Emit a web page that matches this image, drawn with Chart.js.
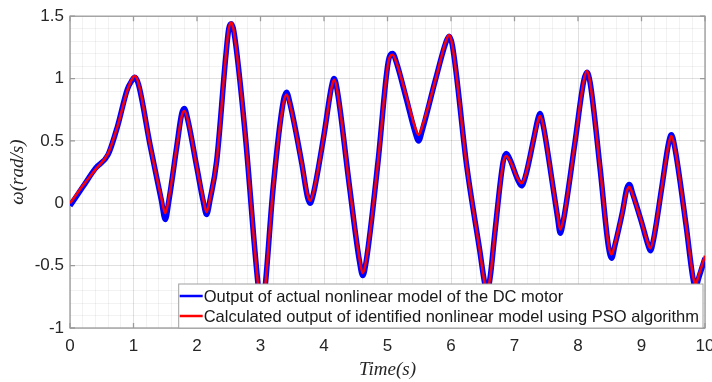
<!DOCTYPE html>
<html>
<head>
<meta charset="utf-8">
<script src="https://cdn.jsdelivr.net/npm/chart.js@4.4.1/dist/chart.umd.min.js"></script>
<style>
  html, body { margin: 0; padding: 0; background: #fff; }
  #wrap { width: 712px; height: 382px; }
</style>
</head>
<body>
<div id="wrap"><canvas id="motorChart" width="712" height="382"></canvas></div>
<script>
// time samples (s)
const time = [
    0.00, 0.20, 0.40, 0.60, 0.75, 0.90, 0.97, 1.02, 1.08,
    1.26, 1.44, 1.50, 1.56, 1.68, 1.76, 1.80, 1.85, 2.00, 2.10,
    2.15, 2.21, 2.31, 2.45, 2.50, 2.54, 2.58,
    2.76, 2.91, 2.98, 3.02, 3.06, 3.20,
    3.36, 3.41, 3.46, 3.65, 3.74, 3.78, 3.83,
    4.00, 4.12, 4.16, 4.21, 4.40, 4.56, 4.61, 4.66,
    4.85, 5.01, 5.08, 5.14, 5.30, 5.44, 5.49, 5.55,
    5.75, 5.92, 5.97, 6.02, 6.25, 6.45, 6.53, 6.57, 6.62, 6.69,
    6.82, 6.87, 6.93, 7.05, 7.11, 7.17, 7.30, 7.37, 7.40, 7.45,
    7.60, 7.68, 7.72, 7.77, 7.95, 8.09, 8.14, 8.19,
    8.35, 8.48, 8.53, 8.58, 8.70, 8.77, 8.81, 8.86, 9.00, 9.10, 9.14, 9.19,
    9.32, 9.43, 9.47, 9.52, 9.70, 9.81, 9.85, 9.90, 10.00
];

// measured speed of the actual motor model (blue)
const actualOutput = [
    -0.02, 0.13, 0.28, 0.39, 0.62, 0.91, 0.98, 1.01, 0.95,
    0.47, 0.02, -0.13, 0.03, 0.45, 0.72, 0.76, 0.68, 0.28, 0.01,
    -0.09, 0.04, 0.34, 1.16, 1.40, 1.44, 1.38,
    0.55, -0.37, -0.74, -0.86, -0.74, 0.13,
    0.82, 0.89, 0.81, 0.32, 0.05, 0.00, 0.07,
    0.55, 0.94, 1.00, 0.90, 0.14, -0.47, -0.58, -0.48,
    0.33, 1.13, 1.20, 1.13, 0.83, 0.56, 0.50, 0.59,
    0.98, 1.29, 1.34, 1.27, 0.29, -0.37, -0.64, -0.71, -0.58, -0.24,
    0.33, 0.40, 0.35, 0.19, 0.14, 0.21, 0.51, 0.68, 0.72, 0.63,
    0.15, -0.12, -0.24, -0.14, 0.48, 0.98, 1.05, 0.97,
    0.27, -0.35, -0.44, -0.34, -0.07, 0.12, 0.15, 0.08, -0.15, -0.33, -0.38, -0.29,
    0.13, 0.49, 0.55, 0.46, -0.17, -0.60, -0.68, -0.60, -0.44
];

// output of the PSO identified model (red)
const psoOutput = [
    0.00, 0.14, 0.27, 0.40, 0.62, 0.90, 0.99, 1.02, 0.96,
    0.47, 0.04, -0.08, 0.05, 0.45, 0.70, 0.74, 0.68, 0.28, 0.03,
    -0.07, 0.05, 0.34, 1.16, 1.40, 1.45, 1.38,
    0.55, -0.37, -0.74, -0.85, -0.74, 0.13,
    0.80, 0.87, 0.80, 0.32, 0.07, 0.02, 0.08,
    0.55, 0.93, 0.99, 0.90, 0.14, -0.45, -0.56, -0.47,
    0.33, 1.12, 1.19, 1.13, 0.85, 0.60, 0.55, 0.62,
    0.98, 1.30, 1.35, 1.27, 0.29, -0.37, -0.64, -0.70, -0.58, -0.24,
    0.32, 0.38, 0.34, 0.20, 0.16, 0.22, 0.51, 0.66, 0.70, 0.63,
    0.15, -0.10, -0.21, -0.13, 0.48, 0.98, 1.06, 0.97,
    0.27, -0.33, -0.41, -0.33, -0.07, 0.10, 0.13, 0.07, -0.15, -0.32, -0.36, -0.28,
    0.13, 0.48, 0.54, 0.46, -0.17, -0.58, -0.65, -0.58, -0.42
];

const xTicks = [0, 1, 2, 3, 4, 5, 6, 7, 8, 9, 10];
const yTicks = [-1, -0.5, 0, 0.5, 1, 1.5];
const seriesLabels = [
    'Output of actual nonlinear model of the DC motor',
    'Calculated output of identified nonlinear model using PSO algorithm'
];

const isMajor = (v, list) => list.some(t => Math.abs(t - v) < 1e-6);
const gridColor = list => ctx => isMajor(ctx.tick.value, list) ? 'rgba(0,0,0,0.12)' : 'rgba(0,0,0,0.05)';
const tickFont = { family: 'Liberation Sans, Arial, sans-serif', size: 17 };
const titleFont = { family: 'Liberation Serif, Times New Roman, serif', style: 'italic', size: 19 };

// MATLAB style box with inward tick marks
const axesBox = {
    id: 'axesBox',
    beforeDatasetsDraw(chart) {
        const { ctx, chartArea: a, scales: { x, y } } = chart;
        ctx.save();
        ctx.strokeStyle = '#9a9a9a';
        ctx.lineWidth = 1.3;
        ctx.strokeRect(a.left, a.top, a.right - a.left, a.bottom - a.top);
        ctx.beginPath();
        xTicks.forEach(v => {
            const px = x.getPixelForValue(v);
            ctx.moveTo(px, a.bottom); ctx.lineTo(px, a.bottom - 5);
            ctx.moveTo(px, a.top); ctx.lineTo(px, a.top + 5);
        });
        yTicks.forEach(v => {
            const py = y.getPixelForValue(v);
            ctx.moveTo(a.left, py); ctx.lineTo(a.left + 5, py);
            ctx.moveTo(a.right, py); ctx.lineTo(a.right - 5, py);
        });
        ctx.stroke();
        ctx.restore();
    }
};

// legend box sitting in the lower right corner of the axes
const boxLegend = {
    id: 'boxLegend',
    afterDraw(chart) {
        const { ctx, chartArea: a } = chart;
        const sets = chart.data.datasets;
        ctx.save();
        ctx.font = '16.5px Liberation Sans, Arial, sans-serif';
        const textW = Math.max(...sets.map(d => ctx.measureText(d.label).width));
        const right = a.right - 2;
        const bottom = a.bottom;
        const left = right - (25 + textW + 4);
        const top = bottom - 44;
        ctx.fillStyle = '#fff';
        ctx.fillRect(left, top, right - left, bottom - top);
        ctx.strokeStyle = '#a0a0a0';
        ctx.lineWidth = 1;
        ctx.strokeRect(left, top, right - left, bottom - top);
        sets.forEach((d, i) => {
            const rowY = top + 12 + i * 20;
            ctx.strokeStyle = d.borderColor;
            ctx.lineWidth = 2.5;
            ctx.beginPath();
            ctx.moveTo(left + 1, rowY);
            ctx.lineTo(left + 24, rowY);
            ctx.stroke();
            ctx.fillStyle = '#1a1a1a';
            ctx.textBaseline = 'middle';
            ctx.fillText(d.label, left + 25, rowY + 1);
        });
        ctx.restore();
    }
};

new Chart(document.getElementById('motorChart'), {
    type: 'line',
    data: {
        datasets: [{
            label: seriesLabels[0],
            data: time.map((t, i) => ({ x: t, y: actualOutput[i] })),
            borderColor: '#0000ff',
            borderWidth: 5.5,
            cubicInterpolationMode: 'monotone',
            order: 1
        }, {
            label: seriesLabels[1],
            data: time.map((t, i) => ({ x: t, y: psoOutput[i] })),
            borderColor: '#ff0000',
            borderWidth: 2.5,
            cubicInterpolationMode: 'monotone',
            order: 0
        }]
    },
    options: {
        responsive: false,
        animation: false,
        devicePixelRatio: 1,
        layout: { padding: { top: 14, right: 7, left: 0, bottom: 0 } },
        elements: { point: { radius: 0 } },
        plugins: { legend: { display: false }, tooltip: { enabled: false } },
        scales: {
            x: {
                type: 'linear',
                min: 0,
                max: 10,
                afterFit: s => { s.height = 54; s.paddingLeft = 0; s.paddingRight = 0; },
                ticks: {
                    stepSize: 0.2,
                    autoSkip: false,
                    maxRotation: 0,
                    padding: 8,
                    color: '#262626',
                    font: tickFont,
                    callback: v => isMajor(v, xTicks) ? String(Math.round(v)) : ''
                },
                grid: { drawTicks: false, color: gridColor(xTicks) },
                border: { display: false },
                title: {
                    display: true,
                    text: 'Time(s)',
                    color: '#262626',
                    font: titleFont,
                    padding: { top: 0, bottom: 1 }
                }
            },
            y: {
                min: -1,
                max: 1.5,
                afterFit: s => { s.width = 70; },
                ticks: {
                    stepSize: 0.1,
                    autoSkip: false,
                    padding: 6,
                    color: '#262626',
                    font: tickFont,
                    callback: v => isMajor(v, yTicks) ? String(Number(v.toFixed(1))) : ''
                },
                grid: { drawTicks: false, color: gridColor(yTicks) },
                border: { display: false },
                title: {
                    display: true,
                    text: 'ω(rad/s)',
                    color: '#262626',
                    font: titleFont,
                    padding: { top: 7, bottom: 0 }
                }
            }
        }
    },
    plugins: [axesBox, boxLegend]
});
</script>
</body>
</html>
